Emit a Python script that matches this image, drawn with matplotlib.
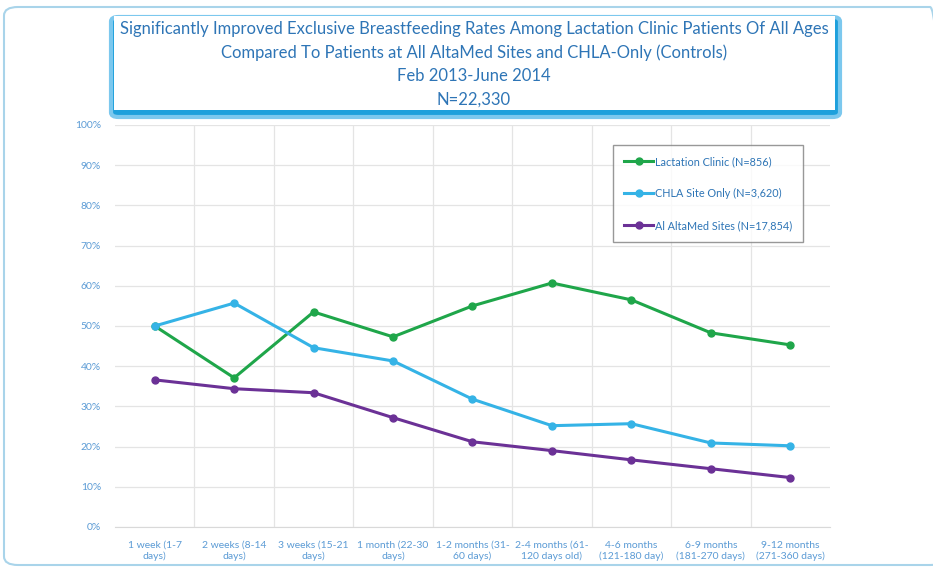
import matplotlib
matplotlib.use("Agg")
import matplotlib.pyplot as plt
from matplotlib.patches import FancyBboxPatch
from matplotlib.ticker import PercentFormatter

categories = [
    "1 week (1-7\ndays)", "2 weeks (8-14\ndays)", "3 weeks (15-21\ndays)",
    "1 month (22-30\ndays)", "1-2 months (31-\n60 days)", "2-4 months (61-\n120 days old)",
    "4-6 months\n(121-180 day)", "6-9 months\n(181-270 days)", "9-12 months\n(271-360 days)",
]
lactation = [50.0, 37.1, 53.5, 47.3, 55.0, 60.7, 56.5, 48.3, 45.3]
chla = [50.0, 55.7, 44.6, 41.3, 31.8, 25.2, 25.7, 20.9, 20.2]
altamed = [36.6, 34.4, 33.4, 27.2, 21.2, 19.0, 16.7, 14.5, 12.3]
series_labels = ["Lactation Clinic (N=856)", "CHLA Site Only (N=3,620)", "Al AltaMed Sites (N=17,854)"]
title_lines = [
    "Significantly Improved Exclusive Breastfeeding Rates Among Lactation Clinic Patients Of All Ages",
    "Compared To Patients at All AltaMed Sites and CHLA-Only (Controls)",
    "Feb 2013-June 2014",
    "N=22,330",
]

plt.rcParams["font.family"] = ["Lato", "DejaVu Sans"]
tick_color = "#5b9bd5"
title_color = "#2e75b6"

fig = plt.figure(figsize=(9.33, 5.69), dpi=100)
W, H = 933, 569

# outer rounded frame
fig.patches.append(FancyBboxPatch((4 / W, 4 / H), 940 / W, 558 / H,
                                  boxstyle="round,pad=0,rounding_size=0.015",
                                  transform=fig.transFigure, facecolor="none",
                                  edgecolor="#a9d4ea", linewidth=1.5, zorder=-1))

ax = fig.add_axes([115 / W, 1 - 527 / H, 715 / W, 402 / H])
ax.set_zorder(2)
ax.patch.set_alpha(0)
x = list(range(len(categories)))
ax.plot(x, lactation, color="#1fa64a", lw=2.2, marker="o", ms=5, label=series_labels[0], zorder=3)
ax.plot(x, chla, color="#35b3e6", lw=2.2, marker="o", ms=5, label=series_labels[1], zorder=3)
ax.plot(x, altamed, color="#6b3196", lw=2.2, marker="o", ms=5, label=series_labels[2], zorder=3)

ax.set_xlim(-0.5, len(categories) - 0.5)
ax.set_ylim(0, 100)
ax.set_yticks(range(0, 101, 10))
ax.yaxis.set_major_formatter(PercentFormatter(decimals=0))
ax.set_xticks(x)
ax.set_xticklabels(categories, fontsize=7.5, color=tick_color)
ax.tick_params(axis="y", labelsize=7.5, labelcolor=tick_color, length=0, pad=10)
ax.tick_params(axis="x", length=0, pad=10)
ax.set_xticks([i + 0.5 for i in x[:-1]], minor=True)
ax.tick_params(axis="x", which="minor", length=0)
ax.grid(axis="y", color="#e4e4e4", lw=0.9)
ax.grid(axis="x", which="minor", color="#e4e4e4", lw=0.9)
for s in ["top", "right", "left"]:
    ax.spines[s].set_visible(False)
ax.spines["bottom"].set_color("#d9d9d9")

leg = ax.legend(loc="upper left", bbox_to_anchor=(0.697, 0.95), fontsize=7.8,
                frameon=True, fancybox=False, edgecolor="#7f7f7f",
                labelcolor="#2e75b6", handlelength=2.7, handletextpad=0.1,
                labelspacing=1.95, borderpad=1.0, borderaxespad=0)
leg.get_frame().set_linewidth(1.0)

# title box with blue glow
fig.patches.append(FancyBboxPatch((111 / W, 1 - 117 / H), 729 / W, 100 / H,
                                  boxstyle="round,pad=0,rounding_size=0.008",
                                  transform=fig.transFigure, facecolor="#1ea0dc",
                                  edgecolor="#7cc8ee", linewidth=3, zorder=5))
fig.patches.append(FancyBboxPatch((114 / W, 1 - 110 / H), 721 / W, 94 / H,
                                  boxstyle="square,pad=0",
                                  transform=fig.transFigure, facecolor="white",
                                  edgecolor="none", zorder=6))
fig.text(474 / W, 1 - 64 / H, "\n".join(title_lines), ha="center", va="center",
         fontsize=12, color=title_color, linespacing=1.55, zorder=7)

fig.savefig("out.png", dpi=100)
